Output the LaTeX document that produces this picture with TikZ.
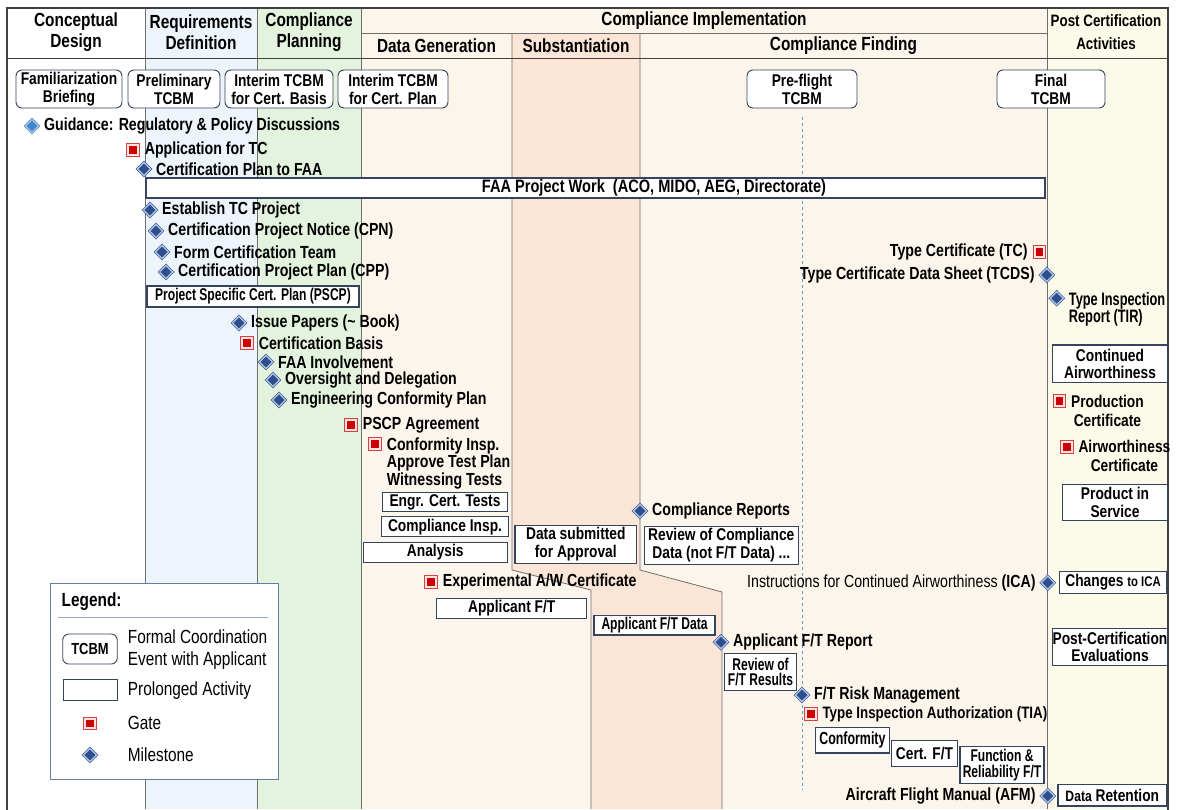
\documentclass[tikz,border=0pt]{standalone}
\usepackage{fontspec}
\setmainfont[FakeStretch=0.81]{Liberation Sans}
\newfontfamily\narrowfont[FakeStretch=0.71]{Liberation Sans}
\usetikzlibrary{positioning, shapes.geometric}

\definecolor{reqblue}{HTML}{EEF4FB}
\definecolor{plangreen}{HTML}{E4F3DD}
\definecolor{implbeige}{HTML}{FCF5EB}
\definecolor{substpeach}{HTML}{FBE5D6}
\definecolor{postcream}{HTML}{FCFBEA}
\definecolor{gridgray}{HTML}{6F6F6F}
\definecolor{framegray}{HTML}{404040}
\definecolor{boxline}{HTML}{36435F}
\definecolor{mileblue}{HTML}{2F4E8C}
\definecolor{milelight}{HTML}{3F86CC}
\definecolor{mileedge}{HTML}{A9C0E2}
\definecolor{gatered}{HTML}{CC0000}
\definecolor{gatepink}{HTML}{FBE3E3}
\definecolor{legendline}{HTML}{5F7FA6}
\definecolor{legendsep}{HTML}{8FAACC}
\definecolor{dashblue}{HTML}{6A96C8}

\tikzset{
  hdr/.style = {align=center, inner sep=0pt, font=\fontsize{19}{21}\selectfont\bfseries},
  lbl/.style = {inner sep=0pt, align=left, font=\fontsize{17.5}{17.5}\selectfont\bfseries},
  tcbm/.style = {draw=boxline, fill=white, rounded corners=6pt, line width=0.9pt,
    align=center, inner sep=0pt, minimum height=38pt,
    font=\fontsize{17}{18}\selectfont\bfseries},
  activity/.style = {draw=boxline, fill=white, line width=1.3pt, align=center,
    inner sep=0pt, font=\fontsize{17}{17.5}\selectfont\bfseries},
  milestone/.style = {diamond, draw=mileblue, double=mileedge, double distance=1.4pt,
    line width=0.5pt, fill=mileblue, minimum size=13.5pt, inner sep=0pt},
  gate/.style = {rectangle, draw=gatered!75, fill=gatepink, line width=0.7pt,
    minimum size=12.5pt, inner sep=0pt,
    path picture={\fill[gatered] ([xshift=-3.8pt, yshift=-3.8pt]path picture bounding box.center)
      rectangle ([xshift=3.8pt, yshift=3.8pt]path picture bounding box.center);}},
  legtxt/.style = {inner sep=0pt, align=left, font=\fontsize{19}{22}\selectfont},
  colline/.style = {draw=gridgray, line width=0.8pt},
}

\begin{document}
\begin{tikzpicture}[x=1pt, y=-1pt]
\useasboundingbox (0,0) rectangle (1177,809);

% columns
\fill[reqblue] (145,8) rectangle (257,809);
\fill[plangreen] (257,8) rectangle (361,809);
\fill[implbeige] (361,8) rectangle (1047,809);
\fill[postcream] (1047,8) rectangle (1168,809);
\fill[substpeach] (512,33) -- (640,33) -- (640,570) -- (722,592) -- (722,809)
  -- (591,809) -- (591,590) -- (512,570) -- cycle;

\draw[colline] (145,8) -- (145,809);
\draw[colline] (257,8) -- (257,809);
\draw[colline] (361,8) -- (361,809);
\draw[colline] (1047,8) -- (1047,809);
\draw[colline] (512,33) -- (512,570) -- (591,590) -- (591,809);
\draw[colline] (640,33) -- (640,570) -- (722,592) -- (722,809);
\draw[colline] (361,33) -- (1047,33);
\draw[draw=framegray, line width=1pt] (7,58) -- (1168,58);
\draw[draw=framegray, line width=1.2pt] (7,812) -- (7,8) -- (1168,8) -- (1168,812);

% header
\node[hdr] (h-concept) at (76,32) {Conceptual\\Design};
\node[hdr] (h-req) at (201,32) {Requirements\\Definition};
\node[hdr] (h-plan) at (309,32) {Compliance\\Planning};
\node[hdr] (h-impl) at (704,20.5) {Compliance Implementation};
\node[hdr] (h-datagen) at (436.5,45.5) {Data Generation};
\node[hdr] (h-subst) at (576,45.5) {Substantiation};
\node[hdr] (h-finding) at (843.5,45.5) {Compliance Finding};
\node[hdr, font=\fontsize{16.5}{23}\selectfont\bfseries] (h-post) at (1106,32)
  {Post Certification\\Activities};

% TCBMs
\node[tcbm, minimum width=106pt] (familiar) at (69,89) {Familiarization\\Briefing};
\node[tcbm, minimum width=92pt] (prelim) at (174,89) {Preliminary\\TCBM};
\node[tcbm, minimum width=108pt] (interimbasis) at (279,89) {Interim TCBM\\for Cert. Basis};
\node[tcbm, minimum width=110pt] (interimplan) at (393,89) {Interim TCBM\\for Cert. Plan};
\node[tcbm, minimum width=110pt] (preflight) at (802,89) {Pre-flight\\TCBM};
\node[tcbm, minimum width=108pt] (final) at (1051,89) {Final\\TCBM};

\coordinate (dashend) at (802,790);
\draw[dashblue, dashed, line width=0.7pt] ([yshift=-9pt]preflight.south) -- (dashend);

% early milestones
\node[milestone, fill=milelight, draw=milelight] (m-guidance) at (32,126) {};
\node[lbl, right=5pt of m-guidance] (t-guidance) {Guidance: Regulatory \& Policy Discussions};
\node[gate] (g-apptc) at (133,150) {};
\node[lbl, right=5pt of g-apptc] (t-apptc) {Application for TC};
\node[milestone] (m-certplan) at (144,169) {};
\node[lbl, right=5pt of m-certplan] (t-certplan) {Certification Plan to FAA};

\node[activity, minimum width=899pt, minimum height=20pt] (faawork) at (595.5,188) {};
\node[lbl, font=\fontsize{18}{18}\selectfont\bfseries] (t-faawork) at (654,188)
  {FAA Project Work\ \ (ACO, MIDO, AEG, Directorate)};

\node[milestone] (m-estab) at (150,210) {};
\node[lbl, right=5pt of m-estab] (t-estab) {Establish TC Project};
\node[milestone] (m-cpn) at (156,231) {};
\node[lbl, right=5pt of m-cpn] (t-cpn) {Certification Project Notice (CPN)};
\node[milestone] (m-team) at (162,252) {};
\node[lbl, right=5pt of m-team] (t-team) {Form Certification Team};
\node[milestone] (m-cpp) at (166,272) {};
\node[lbl, right=5pt of m-cpp] (t-cpp) {Certification Project Plan (CPP)};
\node[activity, minimum width=212pt, minimum height=21pt, font=\narrowfont\fontsize{17}{17}\selectfont\bfseries]
  (pscp) at (253,296.5) {Project Specific Cert. Plan (PSCP)};

\node[milestone] (m-issue) at (239,323) {};
\node[lbl, right=5pt of m-issue] (t-issue) {Issue Papers (\textasciitilde\ Book)};
\node[gate] (g-basis) at (247,343) {};
\node[lbl, right=5pt of g-basis] (t-basis) {Certification Basis};
\node[milestone] (m-faainv) at (266,362) {};
\node[lbl, right=5pt of m-faainv] (t-faainv) {FAA Involvement};
\node[milestone] (m-oversight) at (273,380) {};
\node[lbl, right=5pt of m-oversight] (t-oversight) {Oversight and Delegation};
\node[milestone] (m-engconf) at (279,400) {};
\node[lbl, right=5pt of m-engconf] (t-engconf) {Engineering Conformity Plan};

\node[gate] (g-pscpagr) at (351,425) {};
\node[lbl, right=5pt of g-pscpagr] (t-pscpagr) {PSCP Agreement};
\node[gate] (g-confinsp) at (375,444) {};
\node[lbl, anchor=north west] (t-confinsp) at ([xshift=5pt, yshift=6.5pt]g-confinsp.east)
  {Conformity Insp.\\Approve Test Plan\\Witnessing Tests};

% data generation and substantiation
\node[activity, minimum width=125pt, minimum height=19.5pt] (engrtests) at (445,502) {Engr. Cert. Tests};
\node[activity, minimum width=126.5pt, minimum height=20pt] (compinsp) at (445,526.7) {Compliance Insp.};
\node[activity, minimum width=144pt, minimum height=20pt] (analysis) at (435.3,552.3) {Analysis};
\node[activity, minimum width=121.5pt, minimum height=37.5pt, font=\fontsize{17}{18}\selectfont\bfseries]
  (datasub) at (575.8,544.5) {Data submitted\\for Approval};
\node[milestone] (m-compreports) at (640,511) {};
\node[lbl, right=5pt of m-compreports] (t-compreports) {Compliance Reports};
\node[activity, minimum width=154pt, minimum height=37.5pt, font=\fontsize{17}{18}\selectfont\bfseries]
  (reviewcomp) at (721.3,545.5) {Review of Compliance\\Data (not F/T Data) ...};

\node[gate] (g-expaw) at (431,582) {};
\node[lbl, right=5pt of g-expaw] (t-expaw) {Experimental A/W Certificate};
\node[activity, minimum width=150pt, minimum height=20pt] (appft) at (511.7,608.3) {Applicant F/T};
\node[activity, minimum width=121pt, minimum height=19.5pt, font=\narrowfont\fontsize{17}{17}\selectfont\bfseries]
  (appftdata) at (654.5,625.3) {Applicant F/T Data};
\node[milestone] (m-ftreport) at (721,642.3) {};
\node[lbl, right=5pt of m-ftreport] (t-ftreport) {Applicant F/T Report};
\node[activity, minimum width=72.5pt, minimum height=37.5pt, font=\narrowfont\fontsize{17}{15}\selectfont\bfseries]
  (reviewft) at (760.5,672) {Review of\\F/T Results};
\node[milestone] (m-ftrisk) at (802,695) {};
\node[lbl, right=5pt of m-ftrisk] (t-ftrisk) {F/T Risk Management};
\node[gate] (g-tia) at (810.7,714) {};
\node[lbl, right=5pt of g-tia, font=\fontsize{16.5}{17}\selectfont\bfseries] (t-tia)
  {Type Inspection Authorization (TIA)};
\node[activity, minimum width=74pt, minimum height=25.5pt, font=\narrowfont\fontsize{17.5}{17}\selectfont\bfseries]
  (conformity) at (852.4,740.3) {Conformity};
\node[activity, minimum width=65.5pt, minimum height=26pt] (certft) at (924.5,753.7) {Cert. F/T};
\node[activity, minimum width=84pt, minimum height=36.5pt, font=\narrowfont\fontsize{17}{16}\selectfont\bfseries]
  (funcrel) at (1002,765) {Function \&\\Reliability F/T};

% compliance finding, right side
\node[gate] (g-tc) at (1039.3,251.7) {};
\node[lbl, left=5pt of g-tc] (t-tc) {Type Certificate (TC)};
\node[milestone] (m-tcds) at (1046.7,275) {};
\node[lbl, left=5pt of m-tcds] (t-tcds) {Type Certificate Data Sheet (TCDS)};
\node[milestone] (m-ica) at (1047.7,582.7) {};
\node[lbl, left=5pt of m-ica] (t-ica) {{\mdseries Instructions for Continued Airworthiness} (ICA)};
\node[milestone] (m-afm) at (1047.7,796) {};
\node[lbl, left=5pt of m-afm] (t-afm) {Aircraft Flight Manual (AFM)};

% post certification
\node[milestone] (m-tir) at (1056.7,298.3) {};
\node[lbl, anchor=north west, font=\narrowfont\fontsize{18}{17}\selectfont\bfseries] (t-tir)
  at ([xshift=5pt, yshift=6.5pt]m-tir.east) {Type Inspection\\Report (TIR)};
\node[activity, minimum width=115pt, minimum height=37.5pt, font=\fontsize{17}{17.5}\selectfont\bfseries]
  (contair) at (1110,363.8) {Continued\\Airworthiness};
\node[gate] (g-prod) at (1059.3,401) {};
\node[lbl, anchor=north west, align=center, font=\fontsize{17}{19}\selectfont\bfseries] (t-prod)
  at ([xshift=5pt, yshift=6.5pt]g-prod.east) {Production\\Certificate};
\node[gate] (g-airw) at (1066.7,446.7) {};
\node[lbl, anchor=north west, align=center, font=\fontsize{17}{19}\selectfont\bfseries] (t-airw)
  at ([xshift=5pt, yshift=6.5pt]g-airw.east) {Airworthiness\\Certificate};
\node[activity, minimum width=104.5pt, minimum height=36.5pt] (prodserv) at (1115,502.5) {Product in\\Service};
\node[activity, minimum width=107.5pt, minimum height=21.5pt] (changesica) at (1113,582.5)
  {Changes {\fontsize{14}{14}\selectfont to ICA}};
\node[activity, minimum width=114pt, minimum height=37.5pt, font=\fontsize{17}{16.5}\selectfont\bfseries]
  (postevals) at (1110,647) {Post-Certification\\Evaluations};
\node[activity, minimum width=108.5pt, minimum height=21.5pt] (dataret) at (1112.3,795.2)
  {{\fontsize{15}{15}\selectfont Data} Retention};

% legend
\node[draw=legendline, fill=white, line width=1pt, minimum width=228pt, minimum height=195.5pt,
  anchor=north west, inner sep=0pt] (legend) at (50,583) {};
\node[lbl, anchor=west, font=\fontsize{19}{20}\selectfont\bfseries] (t-legend) at (61.5,602) {Legend:};
\draw[legendsep, line width=1.2pt] (58.3,617.7) -- (267.7,617.7);
\node[tcbm, minimum width=54.5pt, minimum height=30pt, font=\fontsize{16}{16}\selectfont\bfseries]
  (leg-tcbm) at (90,649) {TCBM};
\node[legtxt, anchor=west] (leg-tcbmtxt) at (127.7,650) {Formal Coordination\\Event with Applicant};
\node[activity, minimum width=54pt, minimum height=20.7pt, line width=1pt] (leg-act) at (90.3,689.7) {};
\node[legtxt, anchor=west] (leg-acttxt) at (127.7,691) {Prolonged Activity};
\node[gate] (leg-gate) at (90,723.3) {};
\node[legtxt, anchor=west] (leg-gatetxt) at (127.7,723.3) {Gate};
\node[milestone] (leg-mile) at (90,755) {};
\node[legtxt, anchor=west] (leg-miletxt) at (127.7,755) {Milestone};
\end{tikzpicture}
\end{document}
